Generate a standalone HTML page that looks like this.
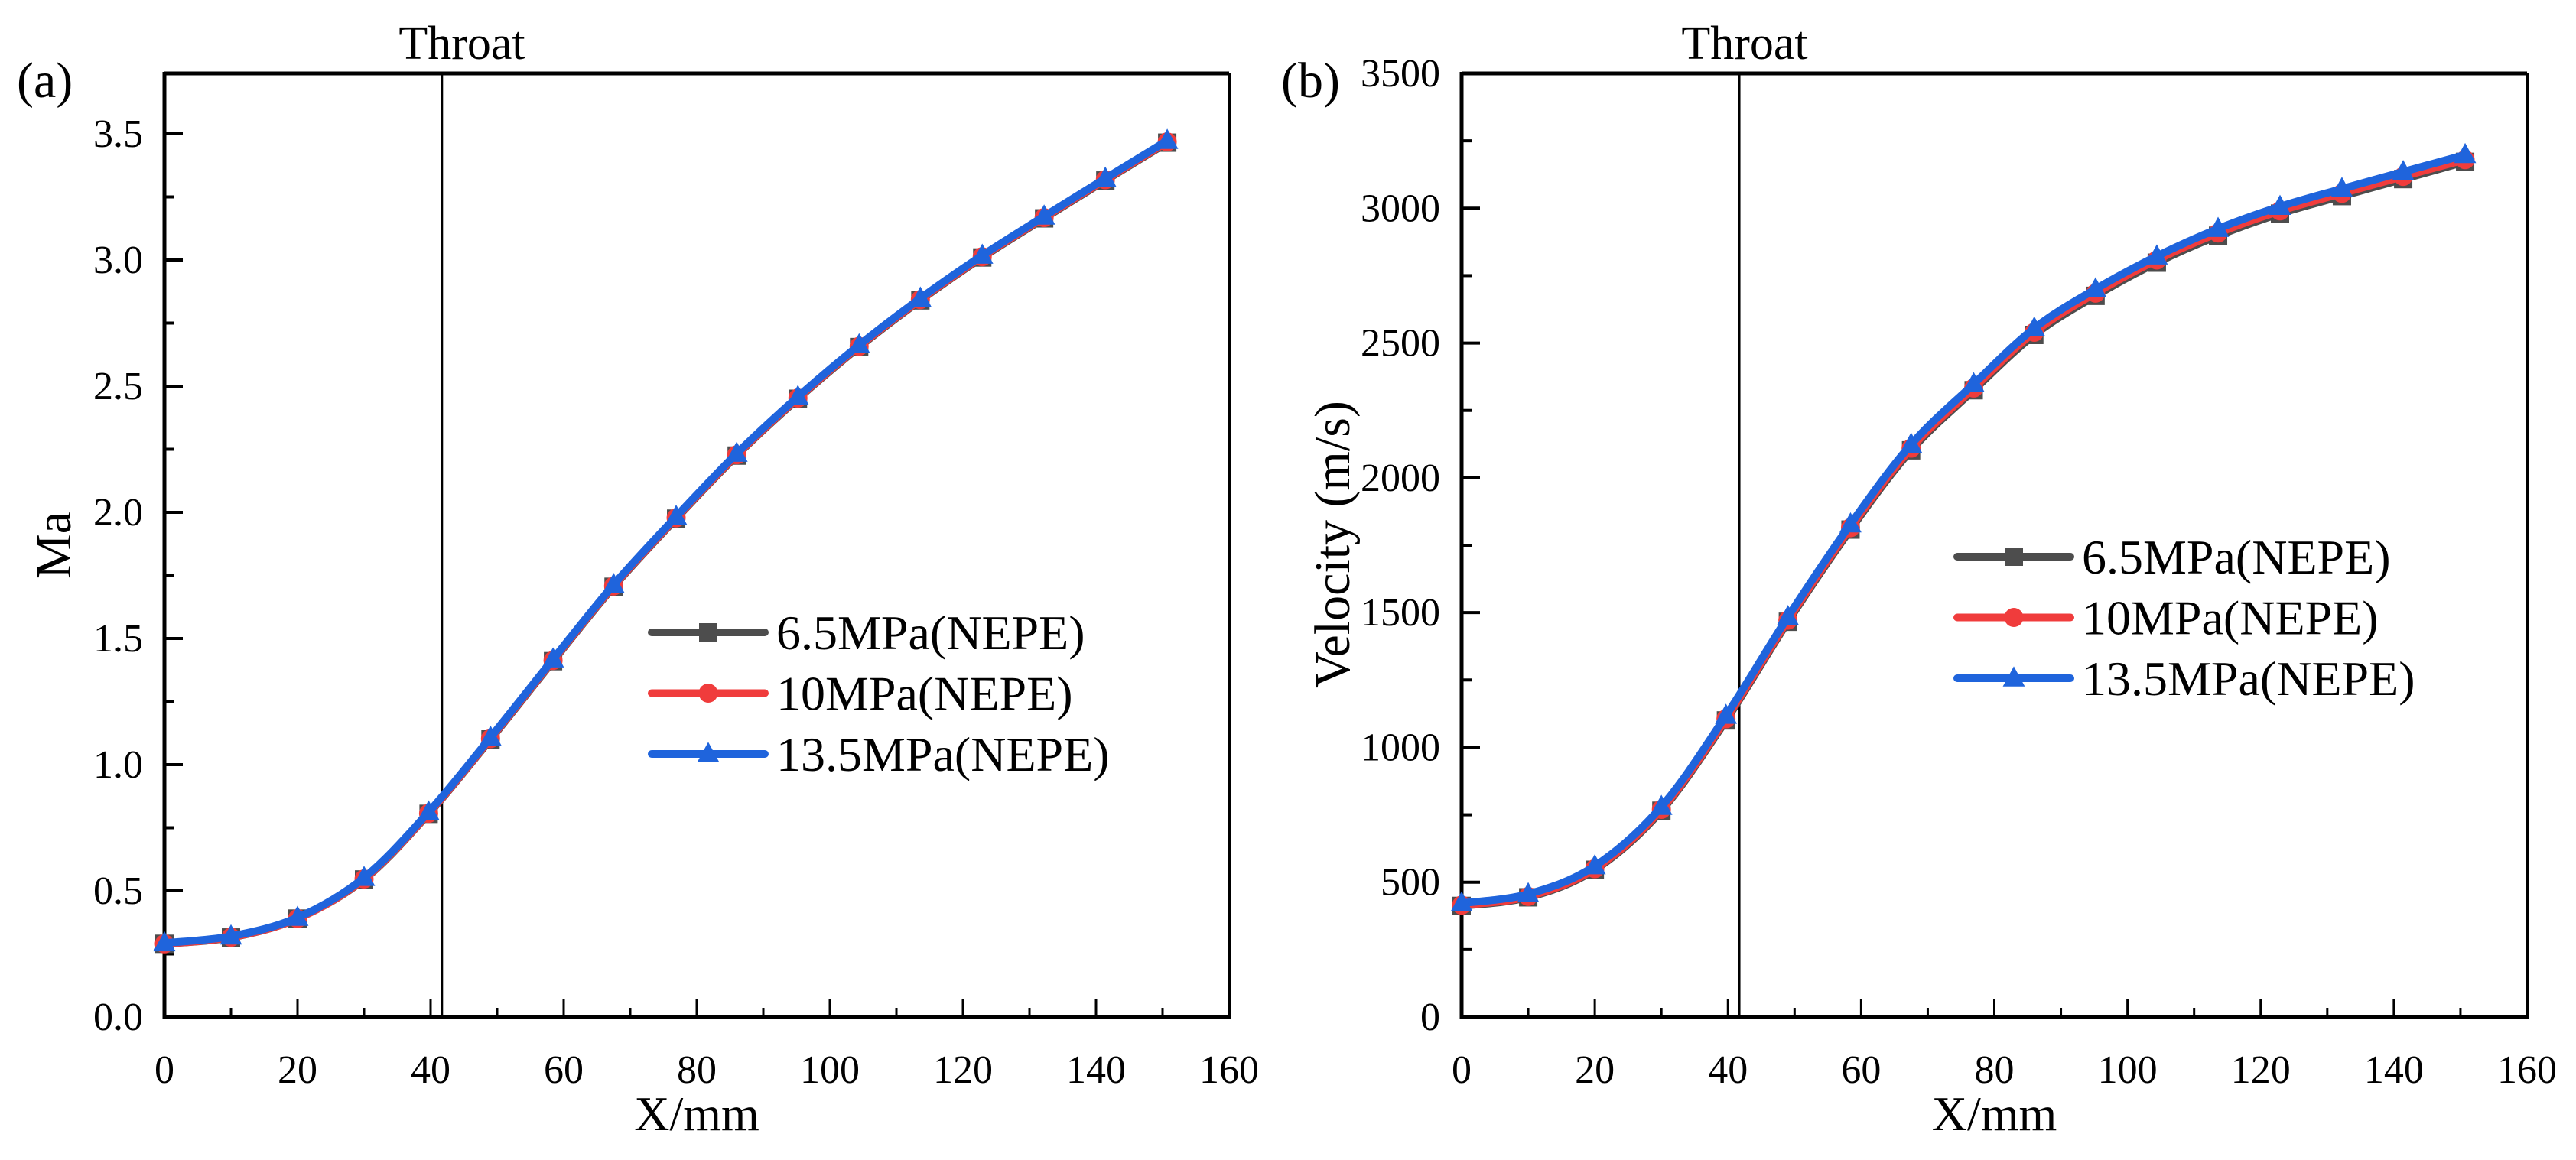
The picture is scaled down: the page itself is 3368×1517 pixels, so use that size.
<!DOCTYPE html>
<html><head><meta charset="utf-8">
<style>
html,body{margin:0;padding:0;background:#fff;}
svg{display:block;}
text{font-family:"Liberation Serif",serif;fill:#000;}
</style></head>
<body>
<svg id="fig" width="3368" height="1517" viewBox="0 0 3368 1517" xmlns="http://www.w3.org/2000/svg"></svg>
<script>
// ---- data ----
const xPos = [0,10,20,30,39.7,49,58.4,67.5,76.9,86,95.2,104.4,113.6,122.9,132.2,141.4,150.7];
const ma65 = [0.29,0.315,0.39,0.545,0.805,1.10,1.41,1.705,1.975,2.225,2.45,2.655,2.84,3.01,3.165,3.315,3.465];
const ma10 = [0.29,0.316,0.39,0.547,0.807,1.103,1.413,1.708,1.978,2.228,2.453,2.658,2.843,3.013,3.168,3.318,3.468];
const ma135 = [0.293,0.32,0.394,0.552,0.812,1.108,1.418,1.713,1.983,2.233,2.458,2.663,2.848,3.018,3.173,3.323,3.473];
const v65 = [412,444,546,765,1100,1466,1808,2102,2325,2530,2675,2798,2898,2980,3045,3108,3172];
const v10 = [415,447,550,770,1106,1472,1815,2110,2333,2540,2685,2808,2908,2990,3055,3118,3180];
const v135 = [422,456,560,780,1118,1484,1828,2124,2348,2555,2700,2822,2924,3006,3072,3135,3198];
const maTicks = [0,0.5,1.0,1.5,2.0,2.5,3.0,3.5];
const maTickLabels = ["0.0","0.5","1.0","1.5","2.0","2.5","3.0","3.5"];
const vTicks = [0,500,1000,1500,2000,2500,3000,3500];
const vTickLabels = ["0","500","1000","1500","2000","2500","3000","3500"];
const xTicks = [0,20,40,60,80,100,120,140,160];
const xTickLabels = ["0","20","40","60","80","100","120","140","160"];
const seriesNames = ["6.5MPa(NEPE)","10MPa(NEPE)","13.5MPa(NEPE)"];
const throatX = 41.7;

const NS="http://www.w3.org/2000/svg";
const svg=document.getElementById('fig');
function mk(tag,attrs,parent){const e=document.createElementNS(NS,tag);for(const k in attrs)e.setAttribute(k,attrs[k]);(parent||svg).appendChild(e);return e;}
const colors=["#4d4d4d","#f03c3c","#1f64dc"];
const shapes=["square","circle","triangle"];

function marker(g,shape,cx,cy,col,s){
  let m;
  if(shape==="square"){m=mk('rect',{x:cx-s*0.5,y:cy-s*0.5,width:s,height:s,fill:col},g);}
  else if(shape==="circle"){m=mk('circle',{cx:cx,cy:cy,r:s*0.52,fill:col},g);}
  else {m=mk('polygon',{points:`${cx},${cy-s*0.65} ${cx-s*0.6},${cy+s*0.45} ${cx+s*0.6},${cy+s*0.45}`,fill:col},g);}
  return m;
}
function smoothPath(pts){
  let d=`M${pts[0][0]},${pts[0][1]}`;
  for(let i=0;i<pts.length-1;i++){
    const p0=pts[Math.max(0,i-1)],p1=pts[i],p2=pts[i+1],p3=pts[Math.min(pts.length-1,i+2)];
    const c1x=p1[0]+(p2[0]-p0[0])/6,c1y=p1[1]+(p2[1]-p0[1])/6;
    const c2x=p2[0]-(p3[0]-p1[0])/6,c2y=p2[1]-(p3[1]-p1[1])/6;
    d+=` C${c1x},${c1y} ${c2x},${c2y} ${p2[0]},${p2[1]}`;
  }
  return d;
}

function panel(cfg){
  const {left,right,top,bottom,ymax,ticks,tickLabels,minorStep,series,ylabel,ylabelX,ylabelY,ylabelFont,tag,tagX,throatLabelX,legX,legY,name}=cfg;
  const g=mk('g',{});
  
  
  const sx=v=>left+(v-0)/160*(right-left);
  const sy=v=>bottom-v/ymax*(bottom-top);
  const fr=mk('g',{},g);
  
  
  mk('line',{x1:left,y1:top,x2:right,y2:top,stroke:'#000','stroke-width':5},fr);
  mk('line',{x1:right,y1:top,x2:right,y2:bottom,stroke:'#000','stroke-width':4},fr);
  mk('line',{x1:left,y1:top-2,x2:left,y2:bottom+2,stroke:'#000','stroke-width':5},fr);
  mk('line',{x1:left-2,y1:bottom,x2:right+2,y2:bottom,stroke:'#000','stroke-width':5},fr);
  const yax=mk('g',{},g);
  
  
  ticks.forEach((t,i)=>{
    const y=sy(t);
    if(t>0) mk('line',{x1:left,y1:y,x2:left+24,y2:y,stroke:'#000','stroke-width':4},yax);
    const tx=mk('text',{x:left-28,y:y+17,'font-size':52,'text-anchor':'end'},yax);
    tx.textContent=tickLabels[i];
    
    
    if(i<ticks.length-1){
      const ym=sy(t+minorStep);
      if(ym>top+5) mk('line',{x1:left,y1:ym,x2:left+13,y2:ym,stroke:'#000','stroke-width':4},yax);
    }
  });
  const xax=mk('g',{},g);
  
  
  xTicks.forEach((t,i)=>{
    const x=sx(t);
    if(t>0&&t<160) mk('line',{x1:x,y1:bottom,x2:x,y2:bottom-23,stroke:'#000','stroke-width':3},xax);
    const tx=mk('text',{x:x,y:bottom+86,'font-size':52,'text-anchor':'middle'},xax);
    tx.textContent=xTickLabels[i];
    
    
    if(t<160) mk('line',{x1:sx(t+10),y1:bottom,x2:sx(t+10),y2:bottom-12,stroke:'#000','stroke-width':3},xax);
  });
  const xt=mk('text',{x:(left+right)/2,y:1478,'font-size':64,'text-anchor':'middle'},g);
  xt.textContent='X/mm';
  
  
  const yt=mk('text',{x:ylabelX,y:ylabelY,'font-size':ylabelFont.size,'text-anchor':'middle',transform:`rotate(-90 ${ylabelX} ${ylabelY})`},g);
  yt.textContent=ylabel;
  
  
  const th=mk('line',{x1:sx(throatX),y1:top,x2:sx(throatX),y2:bottom,stroke:'#000','stroke-width':3},g);
  
  
  const tl=mk('text',{x:throatLabelX,y:77,'font-size':62,'text-anchor':'middle'},g);
  tl.textContent='Throat';
  
  
  const tg=mk('text',{x:tagX,y:127,'font-size':66},g);
  tg.textContent=tag;
  
  
  series.forEach((vals,si)=>{
    const sg=mk('g',{},g);
    
    
    const pts=xPos.map((x,i)=>[sx(x),sy(vals[i])]);
    const p=mk('path',{d:smoothPath(pts),fill:'none',stroke:colors[si],'stroke-width':10,'stroke-linejoin':'round','stroke-linecap':'round'},sg);
    
    
    pts.forEach(pt=>{
      const m=marker(sg,shapes[si],pt[0],pt[1],colors[si],24);
      
      
    });
  });
  const lg=mk('g',{},g);
  
  
  seriesNames.forEach((n,si)=>{
    const y=legY+si*79.5;
    const eg=mk('g',{},lg);
    
    
    mk('line',{x1:legX,y1:y,x2:legX+148,y2:y,stroke:colors[si],'stroke-width':10,'stroke-linecap':'round'},eg);
    marker(eg,shapes[si],legX+74,y,colors[si],24);
    const t=mk('text',{x:legX+163,y:y+22,'font-size':64},eg);
    t.textContent=n;
  });
}

panel({name:'panel-a-mach',left:215,right:1607,top:96,bottom:1330,ymax:3.7394,ticks:maTicks,tickLabels:maTickLabels,minorStep:0.25,
  series:[ma65,ma10,ma135],ylabel:'Ma',ylabelX:92,ylabelY:713,ylabelFont:{size:66},
  tag:'(a)',tagX:22,throatLabelX:604,legX:852,legY:827});
panel({name:'panel-b-velocity',left:1911,right:3304,top:96,bottom:1330,ymax:3500,ticks:vTicks,tickLabels:vTickLabels,minorStep:250,
  series:[v65,v10,v135],ylabel:'Velocity (m/s)',ylabelX:1764,ylabelY:712,ylabelFont:{size:66},
  tag:'(b)',tagX:1675,throatLabelX:2281,legX:2559,legY:728});
</script>
</body></html>
